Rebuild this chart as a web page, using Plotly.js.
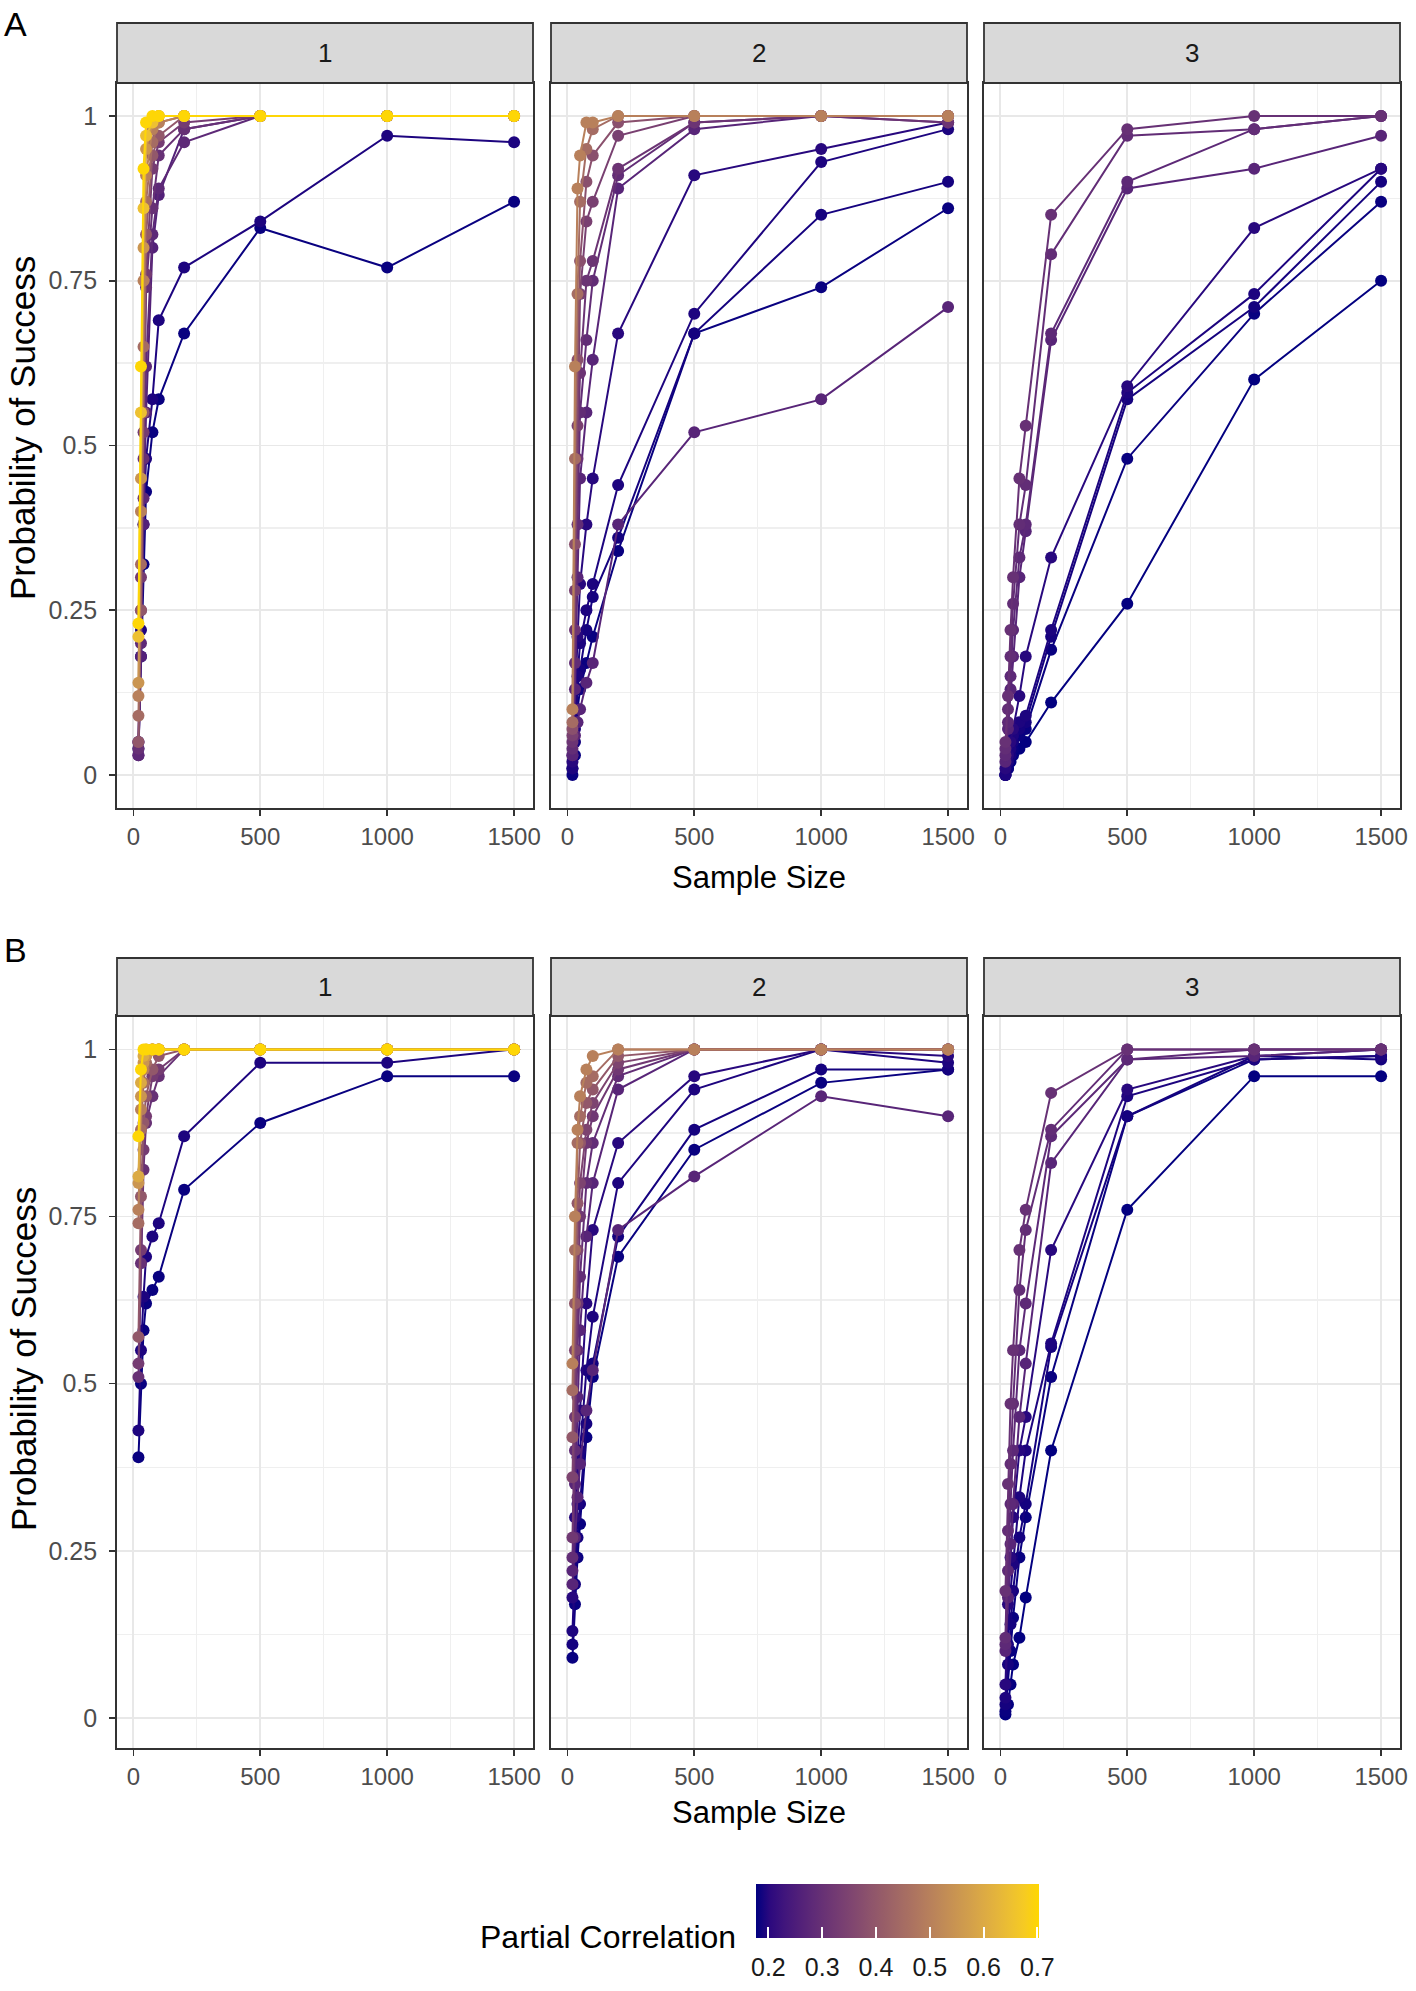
<!DOCTYPE html>
<html><head><meta charset="utf-8">
<script src="https://cdn.plot.ly/plotly-3.0.1.min.js"></script>
<style>html,body{margin:0;padding:0;background:#fff;} #chart{width:1416px;height:1991px;}</style>
</head><body><div id="chart"></div>
<script>
// ---------------- DATA ----------------
const sampleSizes = [20, 30, 40, 50, 75, 100, 200, 500, 1000, 1500];
const facetLabels = ['1', '2', '3'];
const panelLetters = ['A', 'B'];
const xTicks = [0, 500, 1000, 1500];
const yTicks = [0, 0.25, 0.5, 0.75, 1];
const yTickText = ['0', '0.25', '0.5', '0.75', '1'];
const colorTicks = [0.2, 0.3, 0.4, 0.5, 0.6, 0.7];
const colorMin = 0.177, colorMax = 0.703;

// Panel A, facet 1: partial correlation of each line, and success probabilities by sample size
const A1_r = [0.18, 0.19, 0.26, 0.28, 0.30, 0.33, 0.40, 0.45, 0.50, 0.55, 0.65, 0.70];
const A1_p = [
  [0.04, 0.18, 0.32, 0.43, 0.52, 0.57, 0.67, 0.83, 0.77, 0.87],
  [0.05, 0.22, 0.38, 0.48, 0.57, 0.69, 0.77, 0.84, 0.97, 0.96],
  [0.03, 0.18, 0.38, 0.55, 0.80, 0.88, 0.98, 1.00, 1.00, 1.00],
  [0.03, 0.20, 0.42, 0.62, 0.82, 0.89, 0.96, 1.00, 1.00, 1.00],
  [0.04, 0.25, 0.48, 0.74, 0.86, 0.94, 0.98, 1.00, 1.00, 1.00],
  [0.05, 0.30, 0.52, 0.76, 0.92, 0.96, 0.99, 1.00, 1.00, 1.00],
  [0.05, 0.25, 0.55, 0.82, 0.94, 0.97, 1.00, 1.00, 1.00, 1.00],
  [0.09, 0.32, 0.65, 0.87, 0.96, 0.99, 1.00, 1.00, 1.00, 1.00],
  [0.12, 0.40, 0.75, 0.91, 0.98, 0.99, 1.00, 1.00, 1.00, 1.00],
  [0.14, 0.45, 0.80, 0.95, 0.99, 1.00, 1.00, 1.00, 1.00, 1.00],
  [0.21, 0.55, 0.86, 0.97, 0.99, 1.00, 1.00, 1.00, 1.00, 1.00],
  [0.23, 0.62, 0.92, 0.99, 1.00, 1.00, 1.00, 1.00, 1.00, 1.00]
];
// Panel A, facet 2
const A2_r = [0.18, 0.185, 0.19, 0.20, 0.27, 0.27, 0.29, 0.31, 0.34, 0.38, 0.45, 0.50];
const A2_p = [
  [0.00, 0.03, 0.10, 0.13, 0.17, 0.21, 0.34, 0.67, 0.74, 0.86],
  [0.01, 0.05, 0.13, 0.16, 0.22, 0.27, 0.36, 0.67, 0.85, 0.90],
  [0.01, 0.07, 0.15, 0.20, 0.25, 0.29, 0.44, 0.70, 0.93, 0.98],
  [0.02, 0.10, 0.21, 0.29, 0.38, 0.45, 0.67, 0.91, 0.95, 0.99],
  [0.03, 0.06, 0.08, 0.10, 0.14, 0.17, 0.38, 0.52, 0.57, 0.71],
  [0.03, 0.13, 0.30, 0.45, 0.55, 0.63, 0.89, 0.98, 1.00, 1.00],
  [0.04, 0.17, 0.38, 0.55, 0.66, 0.75, 0.91, 0.99, 1.00, 0.99],
  [0.05, 0.22, 0.48, 0.61, 0.75, 0.78, 0.92, 0.99, 1.00, 0.99],
  [0.06, 0.28, 0.53, 0.73, 0.84, 0.87, 0.97, 1.00, 1.00, 1.00],
  [0.07, 0.35, 0.63, 0.78, 0.90, 0.94, 0.99, 1.00, 1.00, 1.00],
  [0.08, 0.48, 0.73, 0.87, 0.95, 0.98, 1.00, 1.00, 1.00, 1.00],
  [0.10, 0.62, 0.89, 0.94, 0.99, 0.99, 1.00, 1.00, 1.00, 1.00]
];
// Panel A, facet 3
const A3_r = [0.178, 0.18, 0.185, 0.19, 0.20, 0.27, 0.28, 0.29, 0.30];
const A3_p = [
  [0.00, 0.01, 0.02, 0.03, 0.04, 0.05, 0.11, 0.26, 0.60, 0.75],
  [0.00, 0.01, 0.03, 0.04, 0.06, 0.07, 0.19, 0.48, 0.70, 0.87],
  [0.00, 0.02, 0.03, 0.05, 0.07, 0.08, 0.21, 0.57, 0.71, 0.90],
  [0.00, 0.02, 0.04, 0.06, 0.08, 0.09, 0.22, 0.58, 0.73, 0.92],
  [0.01, 0.03, 0.05, 0.07, 0.12, 0.18, 0.33, 0.59, 0.83, 0.92],
  [0.02, 0.07, 0.13, 0.18, 0.30, 0.37, 0.66, 0.89, 0.92, 0.97],
  [0.03, 0.08, 0.15, 0.22, 0.33, 0.38, 0.67, 0.90, 0.98, 1.00],
  [0.04, 0.10, 0.18, 0.26, 0.38, 0.44, 0.79, 0.97, 0.98, 1.00],
  [0.05, 0.12, 0.22, 0.30, 0.45, 0.53, 0.85, 0.98, 1.00, 1.00]
];
// Panel B, facet 1
const B1_r = [0.18, 0.19, 0.30, 0.33, 0.40, 0.45, 0.50, 0.55, 0.60, 0.70];
const B1_p = [
  [0.39, 0.50, 0.58, 0.62, 0.64, 0.66, 0.79, 0.89, 0.96, 0.96],
  [0.43, 0.55, 0.63, 0.69, 0.72, 0.74, 0.87, 0.98, 0.98, 1.00],
  [0.51, 0.68, 0.82, 0.89, 0.93, 0.96, 1.00, 1.00, 1.00, 1.00],
  [0.53, 0.70, 0.85, 0.90, 0.96, 0.97, 1.00, 1.00, 1.00, 1.00],
  [0.57, 0.78, 0.89, 0.93, 0.97, 0.99, 1.00, 1.00, 1.00, 1.00],
  [0.74, 0.88, 0.95, 0.98, 1.00, 1.00, 1.00, 1.00, 1.00, 1.00],
  [0.76, 0.91, 0.97, 0.99, 1.00, 1.00, 1.00, 1.00, 1.00, 1.00],
  [0.80, 0.93, 0.98, 0.99, 1.00, 1.00, 1.00, 1.00, 1.00, 1.00],
  [0.81, 0.95, 0.99, 1.00, 1.00, 1.00, 1.00, 1.00, 1.00, 1.00],
  [0.87, 0.97, 1.00, 1.00, 1.00, 1.00, 1.00, 1.00, 1.00, 1.00]
];
// Panel B, facet 2
const B2_r = [0.18, 0.185, 0.19, 0.20, 0.27, 0.27, 0.29, 0.32, 0.35, 0.40, 0.45, 0.50];
const B2_p = [
  [0.09, 0.17, 0.24, 0.29, 0.42, 0.51, 0.69, 0.85, 0.95, 0.97],
  [0.11, 0.20, 0.27, 0.32, 0.44, 0.53, 0.72, 0.88, 0.97, 0.97],
  [0.13, 0.24, 0.32, 0.40, 0.52, 0.60, 0.80, 0.94, 1.00, 0.98],
  [0.18, 0.30, 0.39, 0.46, 0.62, 0.73, 0.86, 0.96, 1.00, 0.99],
  [0.20, 0.27, 0.33, 0.38, 0.46, 0.52, 0.73, 0.81, 0.93, 0.90],
  [0.22, 0.35, 0.48, 0.58, 0.72, 0.80, 0.94, 1.00, 1.00, 1.00],
  [0.24, 0.40, 0.55, 0.66, 0.80, 0.86, 0.96, 1.00, 1.00, 1.00],
  [0.27, 0.45, 0.62, 0.75, 0.86, 0.90, 0.97, 1.00, 1.00, 1.00],
  [0.36, 0.55, 0.70, 0.80, 0.88, 0.92, 0.98, 1.00, 1.00, 1.00],
  [0.42, 0.62, 0.77, 0.86, 0.92, 0.94, 0.99, 1.00, 1.00, 1.00],
  [0.49, 0.70, 0.86, 0.90, 0.95, 0.96, 1.00, 1.00, 1.00, 1.00],
  [0.53, 0.75, 0.88, 0.93, 0.97, 0.99, 1.00, 1.00, 1.00, 1.00]
];
// Panel B, facet 3
const B3_r = [0.178, 0.18, 0.185, 0.19, 0.20, 0.27, 0.28, 0.29, 0.30];
const B3_p = [
  [0.005, 0.02, 0.05, 0.08, 0.12, 0.18, 0.40, 0.76, 0.96, 0.96],
  [0.01, 0.05, 0.10, 0.15, 0.24, 0.30, 0.51, 0.90, 0.985, 0.99],
  [0.02, 0.08, 0.14, 0.19, 0.27, 0.32, 0.555, 0.90, 0.99, 0.985],
  [0.03, 0.11, 0.19, 0.23, 0.33, 0.40, 0.56, 0.93, 0.985, 0.99],
  [0.05, 0.17, 0.24, 0.30, 0.40, 0.45, 0.70, 0.94, 0.99, 1.00],
  [0.10, 0.18, 0.26, 0.32, 0.45, 0.53, 0.83, 0.985, 0.99, 1.00],
  [0.11, 0.22, 0.32, 0.40, 0.55, 0.62, 0.87, 0.985, 1.00, 1.00],
  [0.12, 0.28, 0.38, 0.47, 0.64, 0.73, 0.88, 1.00, 1.00, 1.00],
  [0.19, 0.35, 0.47, 0.55, 0.70, 0.76, 0.935, 1.00, 1.00, 1.00]
];

const panels = [
  {r: A1_r, p: A1_p}, {r: A2_r, p: A2_p}, {r: A3_r, p: A3_p},
  {r: B1_r, p: B1_p}, {r: B2_r, p: B2_p}, {r: B3_r, p: B3_p}
];

// ---------------- COLOUR (navy -> gold, Lab interpolation) ----------------
const LOW = [0, 0, 128], HIGH = [255, 215, 0];
function lin(c){ c /= 255; return c <= 0.04045 ? c / 12.92 : Math.pow((c + 0.055) / 1.055, 2.4); }
function delin(c){ c = c <= 0.0031308 ? 12.92 * c : 1.055 * Math.pow(c, 1/2.4) - 0.055; return Math.max(0, Math.min(255, Math.round(c * 255))); }
const WX = 0.95047, WY = 1, WZ = 1.08883;
function f(t){ return t > 0.008856 ? Math.cbrt(t) : 7.787 * t + 16/116; }
function finv(t){ return t > 0.206893 ? t*t*t : (t - 16/116) / 7.787; }
function toLab(c){
  const R = lin(c[0]), G = lin(c[1]), B = lin(c[2]);
  const X = 0.4124564*R + 0.3575761*G + 0.1804375*B;
  const Y = 0.2126729*R + 0.7151522*G + 0.0721750*B;
  const Z = 0.0193339*R + 0.1191920*G + 0.9503041*B;
  const fx = f(X/WX), fy = f(Y/WY), fz = f(Z/WZ);
  return [116*fy - 16, 500*(fx - fy), 200*(fy - fz)];
}
function fromLab(l){
  const fy = (l[0] + 16) / 116, fx = fy + l[1]/500, fz = fy - l[2]/200;
  const X = WX*finv(fx), Y = WY*finv(fy), Z = WZ*finv(fz);
  const R = 3.2404542*X - 1.5371385*Y - 0.4985314*Z;
  const G = -0.9692660*X + 1.8760108*Y + 0.0415560*Z;
  const B = 0.0556434*X - 0.2040259*Y + 1.0572252*Z;
  return 'rgb(' + delin(R) + ',' + delin(G) + ',' + delin(B) + ')';
}
const LAB_LO = toLab(LOW), LAB_HI = toLab(HIGH);
function colorAt(t){
  t = Math.max(0, Math.min(1, t));
  return fromLab([0,1,2].map(i => LAB_LO[i] + t * (LAB_HI[i] - LAB_LO[i])));
}
function colorFor(r){ return colorAt((r - colorMin) / (colorMax - colorMin)); }
const colorscale = [];
for (let i = 0; i <= 20; i++) colorscale.push([i/20, colorAt(i/20)]);

// ---------------- LAYOUT GEOMETRY (pixels) ----------------
const W = 1416, H = 1991;
const colPx = [[117, 533], [551, 967], [984, 1400]];
const rowPlotPx = [[83, 808], [1016, 1748]];
const rowStripPx = [[23, 83], [958, 1016]];
const yRanges = [[-0.05, 1.05], [-0.045, 1.05]];
const xRange = [-64.5, 1574.5];
const px = v => v / W, py = v => 1 - v / H;

const FONT = 'Liberation Sans, Arial, sans-serif';
const traces = [];
const layout = {
  width: W, height: H, autosize: false,
  margin: {l: 0, r: 0, t: 0, b: 0},
  paper_bgcolor: '#ffffff', plot_bgcolor: '#ffffff',
  showlegend: false, hovermode: false,
  font: {family: FONT, color: '#1a1a1a'},
  shapes: [], annotations: []
};

panels.forEach((pan, k) => {
  const row = Math.floor(k / 3), col = k % 3;
  const id = k + 1;
  const xa = id === 1 ? 'xaxis' : 'xaxis' + id;
  const ya = id === 1 ? 'yaxis' : 'yaxis' + id;
  const xr = id === 1 ? 'x' : 'x' + id;
  const yr = id === 1 ? 'y' : 'y' + id;
  layout[xa] = {
    domain: [px(colPx[col][0]), px(colPx[col][1])], anchor: yr,
    range: xRange, tickvals: xTicks, ticktext: xTicks.map(String),
    showgrid: true, gridcolor: '#E8E8E8', gridwidth: 1.8,
    minor: {tickvals: [250, 750, 1250], showgrid: true, gridcolor: '#EFEFEF', gridwidth: 1.3, ticks: ''},
    zeroline: false, showline: true, mirror: true, linecolor: '#333333', linewidth: 1.8,
    ticks: 'outside', ticklen: 6, tickwidth: 1.6, tickcolor: '#333333',
    ticklabelstandoff: 0,
    tickfont: {family: FONT, size: 24, color: '#4D4D4D'}, fixedrange: true
  };
  layout[ya] = {
    domain: [py(rowPlotPx[row][1]), py(rowPlotPx[row][0])], anchor: xr,
    range: yRanges[row], tickvals: yTicks, ticktext: yTickText,
    showgrid: true, gridcolor: '#E8E8E8', gridwidth: 1.8,
    minor: {tickvals: [0.125, 0.375, 0.625, 0.875], showgrid: true, gridcolor: '#EFEFEF', gridwidth: 1.3, ticks: ''},
    zeroline: false, showline: true, mirror: true, linecolor: '#333333', linewidth: 1.8,
    ticks: col === 0 ? 'outside' : '', ticklen: 6, tickwidth: 1.6, tickcolor: '#333333',
    showticklabels: col === 0, ticklabelstandoff: 7,
    tickfont: {family: FONT, size: 25, color: '#4D4D4D'}, fixedrange: true
  };
  // strip
  layout.shapes.push({
    type: 'rect', xref: 'paper', yref: 'paper',
    x0: px(colPx[col][0]), x1: px(colPx[col][1]),
    y0: py(rowStripPx[row][1]), y1: py(rowStripPx[row][0]),
    fillcolor: '#D9D9D9', line: {color: '#333333', width: 1.8}, layer: 'above'
  });
  layout.annotations.push({
    xref: 'paper', yref: 'paper', showarrow: false,
    x: px((colPx[col][0] + colPx[col][1]) / 2), y: py((rowStripPx[row][0] + rowStripPx[row][1]) / 2),
    xanchor: 'center', yanchor: 'middle', text: facetLabels[col],
    font: {family: FONT, size: 26, color: '#1A1A1A'}
  });
  // series
  pan.r.forEach((r, i) => {
    const c = colorFor(r);
    traces.push({
      type: 'scatter', mode: 'lines+markers',
      x: sampleSizes, y: pan.p[i], xaxis: xr, yaxis: yr,
      line: {color: c, width: 2},
      marker: {color: c, size: 12},
      hoverinfo: 'skip', showlegend: false, cliponaxis: false
    });
  });
});

// axis titles, panel letters
[0, 1].forEach(row => {
  layout.annotations.push({
    xref: 'paper', yref: 'paper', showarrow: false,
    x: px(759), y: py(row === 0 ? 877 : 1812), xanchor: 'center', yanchor: 'middle',
    text: 'Sample Size', font: {family: FONT, size: 31, color: '#000000'}
  });
  layout.annotations.push({
    xref: 'paper', yref: 'paper', showarrow: false,
    x: px(23), y: py(row === 0 ? 428 : 1359), xanchor: 'center', yanchor: 'middle',
    textangle: -90, text: 'Probability of Success', font: {family: FONT, size: 35, color: '#000000'}
  });
  layout.annotations.push({
    xref: 'paper', yref: 'paper', showarrow: false,
    x: px(2), y: py(row === 0 ? 24 : 950), xanchor: 'left', yanchor: 'middle',
    text: panelLetters[row], font: {family: FONT, size: 34, color: '#000000'}
  });
});

// colour bar title
layout.annotations.push({
  xref: 'paper', yref: 'paper', showarrow: false,
  x: px(738), y: py(1937), xanchor: 'right', yanchor: 'middle',
  text: 'Partial Correlation', font: {family: FONT, size: 32, color: '#000000'}
});

// colour bar: first one carries the labels (pushed down by invisible ticks),
// the next ones overlay white tick marks at the bottom and top edges of the bar
const cbBase = {
  orientation: 'h', x: px((756 + 1039) / 2), xanchor: 'center',
  y: py(1884), yanchor: 'top', len: 283, lenmode: 'pixels', thickness: 54, thicknessmode: 'pixels',
  xpad: 0, ypad: 0, outlinewidth: 0,
  tickvals: colorTicks, ticktext: colorTicks.map(v => v.toFixed(1)),
  tickfont: {family: FONT, size: 25, color: '#1a1a1a'},
  title: {text: ''}
};
const cbVariants = [
  Object.assign({}, cbBase, {ticks: 'outside', ticklen: 8, tickcolor: 'rgba(0,0,0,0)', showticklabels: true}),
  Object.assign({}, cbBase, {ticks: 'inside', ticklen: 11, tickwidth: 2, tickcolor: '#ffffff', showticklabels: false}),
  Object.assign({}, cbBase, {ticks: 'inside', ticklen: 11, tickwidth: 2, tickcolor: '#ffffff', showticklabels: false, ticklabelposition: 'outside top'})
];
cbVariants.forEach(cb => {
  traces.push({
    type: 'scatter', mode: 'markers', x: colorTicks.map(() => null), y: colorTicks.map(() => null),
    xaxis: 'x', yaxis: 'y', hoverinfo: 'skip', showlegend: false,
    marker: {color: colorTicks, cmin: colorMin, cmax: colorMax, colorscale: colorscale, showscale: true, colorbar: cb}
  });
});

Plotly.newPlot('chart', traces, layout, {staticPlot: true, displayModeBar: false});
</script>
</body></html>
